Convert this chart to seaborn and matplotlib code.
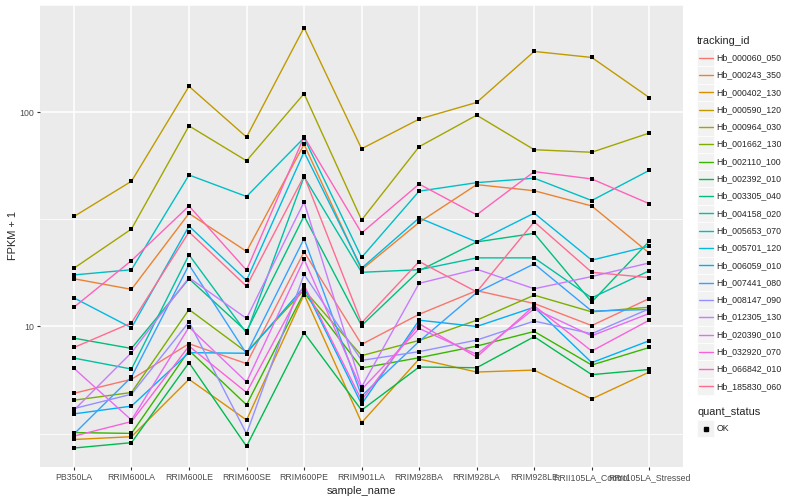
import numpy as np
import pandas as pd
import matplotlib
matplotlib.use("Agg")
import matplotlib.pyplot as plt
from matplotlib.patches import Rectangle
from matplotlib.lines import Line2D
import seaborn as sns

# samples on the x axis
sample_names = ["PB350LA", "RRIM600LA", "RRIM600LE", "RRIM600SE", "RRIM600PE",
                "RRIM901LA", "RRIM928BA", "RRIM928LA", "RRIM928LE",
                "RRII105LA_Control", "RRII105LA_Stressed"]

tracking_ids = ["Hb_000060_050", "Hb_000243_350", "Hb_000402_130", "Hb_000590_120",
                "Hb_000964_030", "Hb_001662_130", "Hb_002110_100", "Hb_002392_010",
                "Hb_003305_040", "Hb_004158_020", "Hb_005653_070", "Hb_005701_120",
                "Hb_006059_010", "Hb_007441_080", "Hb_008147_090", "Hb_012305_130",
                "Hb_020390_010", "Hb_032920_070", "Hb_066842_010", "Hb_185830_060"]

# ggplot default hue colours for 20 levels
hue_colors = ["#F8766D", "#EA8331", "#D89000", "#C09B00", "#A3A500", "#7CAE00",
              "#39B600", "#00BB4E", "#00BF7D", "#00C1A3", "#00BFC4", "#00BAE0",
              "#00B0F6", "#35A2FF", "#9590FF", "#C77CFF", "#E76BF3", "#FA62DB",
              "#FF62BC", "#FF6C90"]

# FPKM + 1 values (one list per gene, same order as sample_names)
hb_000060_050 = [4.88, 5.67, 8.31, 6.71, 22.3, 8.25, 11.4, 14.7, 12.8, 10.1, 13.5]
hb_000243_350 = [16.7, 14.9, 33.7, 22.4, 70.8, 18.4, 30.6, 45.9, 43.0, 36.5, 22.0]
hb_000402_130 = [2.97, 3.06, 5.67, 3.66, 14.1, 3.56, 7.05, 6.13, 6.26, 4.59, 6.13]
hb_000590_120 = [32.6, 47.6, 132, 76.5, 248, 67.5, 92.8, 111, 192, 180, 117]
hb_000964_030 = [18.7, 28.5, 86.3, 59.3, 122, 31.4, 69.0, 96.8, 66.8, 65.0, 79.9]
hb_001662_130 = [4.53, 4.92, 12.0, 7.59, 14.8, 7.31, 8.61, 10.7, 14.0, 11.7, 12.3]
hb_002110_100 = [3.2, 3.17, 7.73, 4.31, 14.4, 6.40, 7.15, 8.10, 9.48, 6.61, 7.98]
hb_002392_010 = [2.71, 2.87, 6.78, 2.76, 9.35, 4.07, 6.47, 6.42, 8.96, 5.96, 6.3]
hb_003305_040 = [8.82, 7.9, 16.7, 9.48, 32.8, 10.1, 18.2, 24.8, 27.2, 13.0, 25.0]
hb_004158_020 = [7.12, 6.33, 21.6, 9.31, 49.9, 17.9, 18.4, 20.9, 20.9, 13.6, 18.2]
hb_005653_070 = [17.4, 18.4, 50.9, 40.4, 75.9, 21.0, 42.8, 46.9, 49.2, 38.7, 53.5]
hb_005701_120 = [13.6, 9.86, 29.4, 16.4, 65.2, 18.7, 32.1, 24.8, 33.8, 20.4, 23.7]
hb_006059_010 = [3.91, 4.25, 7.55, 7.5, 15.3, 4.34, 10.7, 10.0, 12.3, 6.78, 8.58]
hb_007441_080 = [3.15, 5.81, 19.4, 7.46, 25.7, 4.74, 8.52, 14.4, 19.6, 11.8, 12.0]
hb_008147_090 = [4.14, 4.83, 10.5, 3.16, 17.5, 6.95, 7.63, 8.64, 10.6, 9.25, 12.1]
hb_012305_130 = [4.07, 7.55, 16.9, 10.9, 38.1, 5.22, 15.9, 18.5, 15.0, 17.1, 19.8]
hb_020390_010 = [6.38, 3.66, 9.93, 5.51, 20.6, 5.08, 9.79, 7.41, 12.1, 9.05, 11.5]
hb_032920_070 = [3.08, 3.6, 8.10, 4.92, 15.6, 4.53, 10.3, 7.2, 12.5, 7.68, 10.7]
hb_066842_010 = [12.3, 20.3, 36.5, 18.3, 76.8, 27.3, 46.2, 33.2, 52.8, 48.8, 37.4]
hb_185830_060 = [7.98, 10.4, 27.6, 15.4, 50.4, 10.4, 20.1, 14.5, 30.8, 17.9, 16.9]

all_values = [hb_000060_050, hb_000243_350, hb_000402_130, hb_000590_120,
              hb_000964_030, hb_001662_130, hb_002110_100, hb_002392_010,
              hb_003305_040, hb_004158_020, hb_005653_070, hb_005701_120,
              hb_006059_010, hb_007441_080, hb_008147_090, hb_012305_130,
              hb_020390_010, hb_032920_070, hb_066842_010, hb_185830_060]

# long format table
rows = []
for tid, vals in zip(tracking_ids, all_values):
    for i, (s, v) in enumerate(zip(sample_names, vals)):
        rows.append({"tracking_id": tid, "sample_name": s, "pos": i, "fpkm": v})
df = pd.DataFrame(rows)

sns.set_theme(style="darkgrid")
plt.rcParams['font.family'] = ['Liberation Sans', 'DejaVu Sans']

fig = plt.figure(figsize=(8, 5), dpi=100)
ax = fig.add_axes([0.05, 0.066, 0.804, 0.924])
ax.set_facecolor("#EBEBEB")

sns.lineplot(data=df, x="pos", y="fpkm", hue="tracking_id", palette=hue_colors,
             estimator=None, sort=False, lw=1.0, legend=False, ax=ax)
sns.scatterplot(data=df, x="pos", y="fpkm", color="black", marker="s", s=9,
                linewidth=0, legend=False, ax=ax, zorder=5)

ax.set_yscale("log")
ax.set_ylim(2.21, 311)
ax.set_xlim(-0.59, 10.59)
ax.set_xticks(range(len(sample_names)))
ax.set_xticklabels(sample_names)
ax.set_yticks([10, 100])
ax.set_yticklabels(["10", "100"])
ax.set_yticks([10 ** 0.5, 10 ** 1.5, 10 ** 2.5], minor=True)
ax.yaxis.set_minor_formatter(matplotlib.ticker.NullFormatter())

ax.grid(False)
ax.grid(which="major", color="white", lw=1.1)
ax.grid(which="minor", axis="y", color="white", lw=0.55)
ax.set_axisbelow(True)
for sp in ax.spines.values():
    sp.set_visible(False)

ax.tick_params(which="major", length=2.5, width=0.8, color="#333333",
               labelsize=6.3, labelcolor="#4D4D4D", pad=2, bottom=True, left=True)
ax.tick_params(which="minor", length=0)
ax.set_xlabel("sample_name", fontsize=7.9, labelpad=3)
ax.set_ylabel("FPKM + 1", fontsize=7.9, labelpad=1)

# legend built by hand, ggplot style
W, H = 800.0, 500.0
def fx(px):
    return px / W
def fy(py):
    return 1 - py / H

fig.text(fx(697), fy(40.7), "tracking_id", fontsize=7.9, va="center", ha="left")
key = 17.3
for i, (tid, col) in enumerate(zip(tracking_ids, hue_colors)):
    yc = 57.7 + i * key
    fig.add_artist(Rectangle((fx(697), fy(yc + key / 2)), key / W, key / H,
                             transform=fig.transFigure, facecolor="#F2F2F2",
                             edgecolor="white", lw=0.5))
    fig.add_artist(Line2D([fx(698.5), fx(712.8)], [fy(yc), fy(yc)],
                          transform=fig.transFigure, color=col, lw=1.0))
    fig.text(fx(716.7), fy(yc), tid, fontsize=6.3, va="center", ha="left")

fig.text(fx(697), fy(411.7), "quant_status", fontsize=7.9, va="center", ha="left")
fig.add_artist(Rectangle((fx(697), fy(428.7 + key / 2)), key / W, key / H,
                         transform=fig.transFigure, facecolor="#F2F2F2",
                         edgecolor="white", lw=0.5))
fig.add_artist(Line2D([fx(705.6)], [fy(428.7)], transform=fig.transFigure,
                      color="black", marker="s", markersize=3, lw=0))
fig.text(fx(716.7), fy(428.7), "OK", fontsize=6.3, va="center", ha="left")

fig.savefig("out.png", dpi=100, facecolor="white")
